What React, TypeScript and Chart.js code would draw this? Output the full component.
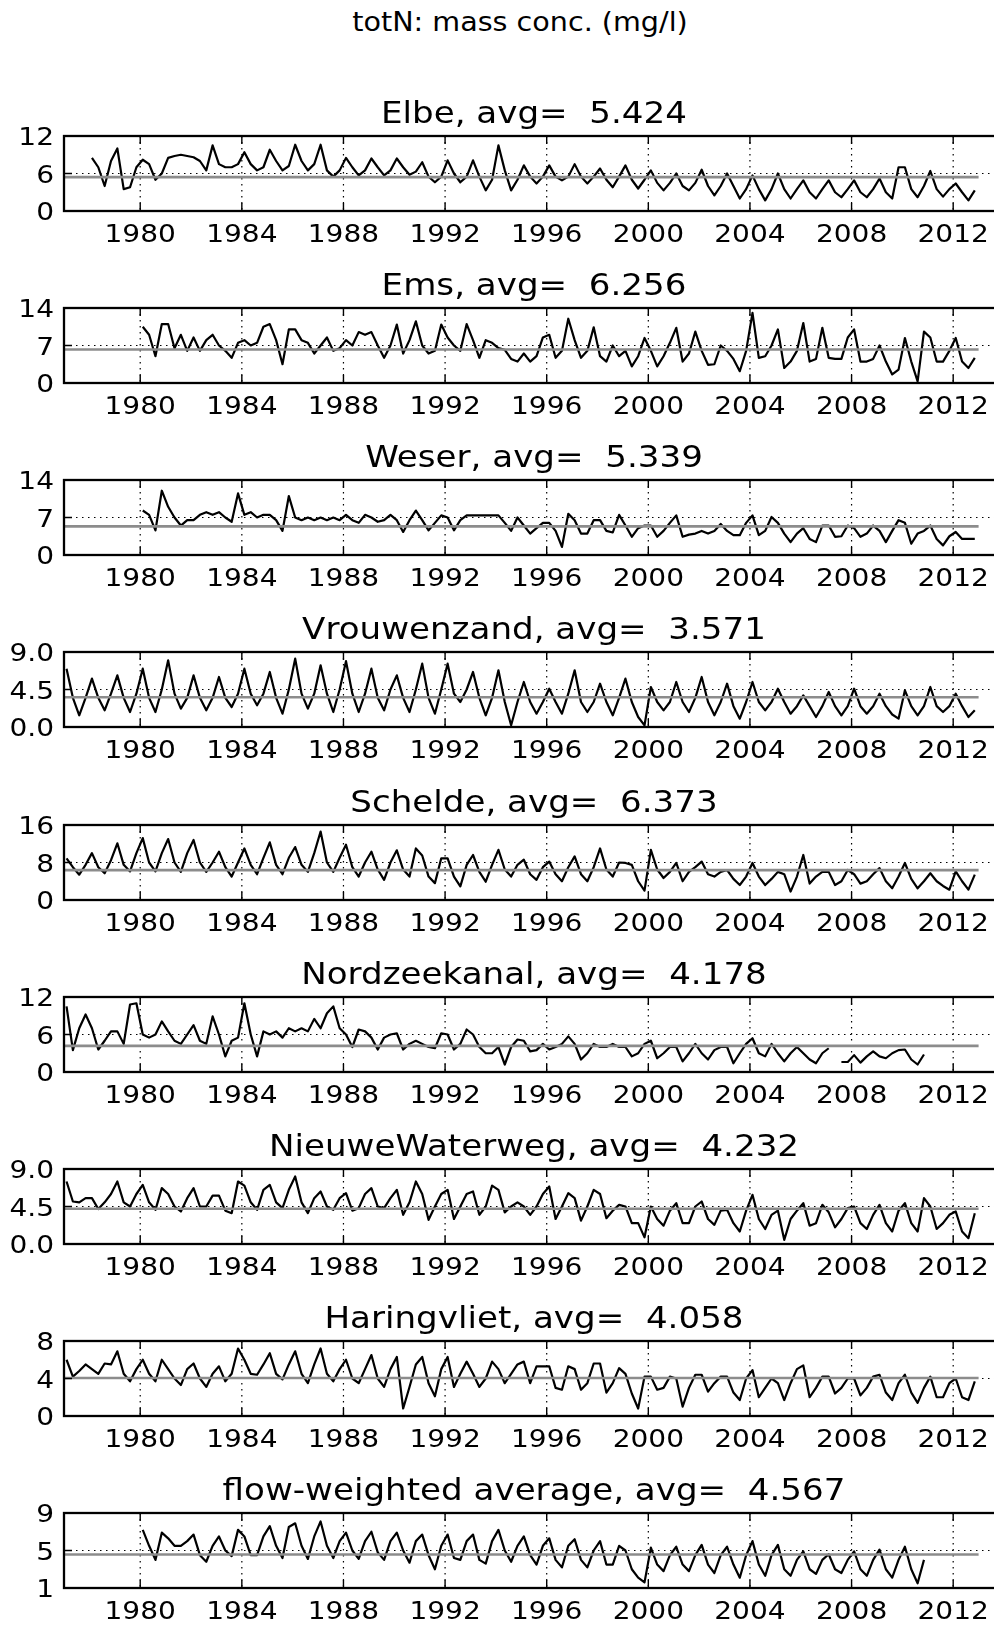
import React, { useEffect, useRef } from "react";
import { Chart, registerables } from "chart.js";

Chart.register(...registerables);

const FONT = '"DejaVu Sans", "Bitstream Vera Sans", sans-serif';
const SX = 1.1; // horizontal text stretch seen in the reference

const X_MIN = 1977;
const X_MAX = 2014;
const xTickYears = [1980, 1984, 1988, 1992, 1996, 2000, 2004, 2008, 2012];
const avgLineSpan = [1977, 2013];
const STEP = 0.25; // quarterly samples

const mainTitle = "totN: mass conc. (mg/l)";
const stationNames = [
  "Elbe",
  "Ems",
  "Weser",
  "Vrouwenzand",
  "Schelde",
  "Nordzeekanal",
  "NieuweWaterweg",
  "Haringvliet",
  "flow-weighted average",
];
const stationAvgs = [5.424, 6.256, 5.339, 3.571, 6.373, 4.178, 4.232, 4.058, 4.567];
const yTickValues = [
  [0, 6, 12],
  [0, 7, 14],
  [0, 7, 14],
  [0, 4.5, 9],
  [0, 8, 16],
  [0, 6, 12],
  [0, 4.5, 9],
  [0, 4, 8],
  [1, 5, 9],
];
const yTickLabels = [
  ["0", "6", "12"],
  ["0", "7", "14"],
  ["0", "7", "14"],
  ["0.0", "4.5", "9.0"],
  ["0", "8", "16"],
  ["0", "6", "12"],
  ["0.0", "4.5", "9.0"],
  ["0", "4", "8"],
  ["1", "5", "9"],
];
const seriesStarts = [1978.1, 1980.1, 1980.1, 1977.1, 1977.1, 1977.1, 1977.1, 1977.1, 1980.1];

const elbe = [
  8.5, 7.0, 4.0, 8.0,
  10.0, 3.5, 3.8, 7.0,
  8.2, 7.5, 5.0, 6.0,
  8.5, 8.8, 9.0, 8.8,
  8.6, 8.0, 6.5, 10.5,
  7.5, 7.0, 7.0, 7.5,
  9.4, 7.5, 6.5, 7.0,
  9.8, 8.0, 6.5, 7.2,
  10.6, 8.0, 6.5, 7.5,
  10.6, 6.5, 5.5, 6.5,
  8.5, 7.0, 5.7, 6.5,
  8.4, 7.0, 5.7, 6.5,
  8.4, 7.0, 5.8, 6.3,
  7.8, 5.5, 4.6, 5.5,
  8.1, 6.0, 4.6, 5.5,
  8.1, 5.5, 3.3, 5.0,
  10.5, 6.5, 3.3, 5.0,
  7.3, 5.5, 4.4, 5.5,
  7.3, 5.5, 4.9, 5.5,
  7.5, 5.5, 4.4, 5.5,
  6.8, 5.0, 3.8, 5.5,
  7.3, 5.0, 3.6, 5.0,
  6.5, 4.5, 3.3, 4.5,
  6.0, 4.0, 3.3, 4.5,
  6.6, 4.0, 2.5, 4.0,
  6.0, 4.0, 2.0, 3.5,
  5.7, 3.5, 1.7, 3.5,
  6.0, 3.5, 2.0, 3.5,
  4.9, 3.0, 2.0, 3.5,
  4.9, 3.0, 2.2, 3.5,
  4.9, 3.0, 2.2, 3.5,
  5.2, 3.0, 2.0, 7.0,
  7.0, 3.5, 2.2, 4.0,
  6.4, 3.5, 2.3, 3.5,
  4.4, 3.0, 1.7, 3.3,
];

const ems = [
  10.5, 9.0, 5.0, 11.0,
  11.0, 6.5, 9.0, 6.0,
  8.5, 6.0, 8.0, 9.0,
  7.0, 6.0, 4.7, 7.5,
  8.0, 7.0, 7.5, 10.5,
  11.0, 8.0, 3.5, 10.0,
  10.0, 8.0, 7.5, 5.5,
  7.0, 8.5, 6.0, 6.5,
  8.0, 7.0, 9.5, 9.0,
  9.5, 7.0, 4.7, 7.0,
  10.9, 5.5, 8.0, 11.5,
  7.0, 5.5, 6.0, 10.9,
  8.5, 7.0, 6.0, 11.0,
  8.0, 4.7, 8.0, 7.5,
  6.5, 6.2, 4.5, 4.0,
  5.5, 4.0, 5.0, 8.5,
  9.0, 4.7, 6.0, 12.0,
  8.0, 4.7, 6.0, 10.4,
  5.0, 4.0, 7.0, 5.0,
  6.0, 3.1, 5.0, 8.4,
  6.0, 3.1, 5.0, 7.5,
  10.3, 4.0, 5.5, 9.6,
  6.0, 3.4, 3.5, 7.0,
  6.0, 4.5, 2.2, 6.0,
  13.1, 4.7, 5.0, 7.0,
  10.0, 2.8, 4.0, 6.0,
  11.2, 4.0, 4.5, 10.3,
  4.7, 4.5, 4.5, 8.5,
  10.0, 4.0, 4.0, 4.5,
  7.0, 4.0, 1.6, 2.5,
  8.4, 4.0, 0.3, 9.6,
  8.5, 4.0, 4.0, 6.0,
  8.4, 4.0, 2.8, 4.7,
];

const weser = [
  8.3, 7.5, 4.6, 12.0,
  9.0, 7.0, 5.5, 6.5,
  6.5, 7.5, 8.0, 7.5,
  8.0, 7.0, 6.2, 11.5,
  7.5, 8.0, 7.0, 7.5,
  7.5, 6.5, 4.5, 11.0,
  7.0, 6.5, 7.0, 6.5,
  7.0, 6.5, 7.0, 6.5,
  7.5, 6.5, 6.0, 7.5,
  7.0, 6.2, 6.5, 7.5,
  6.5, 4.3, 6.5, 8.3,
  6.5, 4.6, 6.0, 7.4,
  7.0, 4.6, 6.5, 7.4,
  7.4, 7.4, 7.4, 7.4,
  7.4, 6.0, 4.5, 7.0,
  5.5, 4.0, 5.0, 6.0,
  6.0, 4.5, 1.5, 7.7,
  6.5, 4.0, 4.0, 6.5,
  6.5, 4.5, 4.2, 7.5,
  5.5, 3.4, 5.0, 5.5,
  5.5, 3.4, 4.5, 6.0,
  7.4, 3.4, 3.8, 4.0,
  4.5, 4.0, 4.5, 5.8,
  4.5, 3.7, 3.7, 6.0,
  7.4, 3.7, 4.5, 7.1,
  6.0, 4.0, 2.4, 4.0,
  5.0, 3.0, 2.4, 5.5,
  5.5, 3.4, 3.5, 5.5,
  5.0, 3.4, 4.0, 5.5,
  4.5, 2.4, 4.5, 6.5,
  6.0, 2.1, 4.0, 4.5,
  5.5, 3.0, 1.8, 3.5,
  4.3, 3.0, 3.0, 3.0,
];

const vrouwenzand = [
  7.0, 3.5, 1.4, 3.5,
  5.8, 3.5, 2.0, 4.0,
  6.2, 3.5, 1.8, 4.0,
  7.0, 3.5, 1.8, 4.5,
  8.0, 4.0, 2.2, 3.5,
  6.2, 3.5, 2.0, 3.5,
  6.0, 3.5, 2.4, 4.0,
  7.0, 4.0, 2.6, 4.0,
  6.6, 3.5, 1.6, 4.5,
  8.2, 4.0, 2.2, 4.0,
  7.4, 4.0, 1.8, 4.5,
  7.9, 4.0, 1.8, 4.0,
  7.0, 3.5, 2.0, 4.5,
  6.2, 3.5, 1.8, 4.5,
  7.6, 3.5, 1.6, 4.5,
  7.6, 4.0, 3.0, 4.5,
  6.6, 3.5, 1.4, 3.5,
  6.8, 3.0, 0.2, 3.0,
  5.4, 3.0, 1.6, 3.0,
  4.6, 3.0, 1.6, 4.0,
  6.8, 3.0, 1.8, 3.0,
  5.2, 3.0, 1.4, 3.5,
  5.8, 3.0, 1.2, 0.2,
  4.8, 3.0, 2.0, 3.0,
  5.4, 3.0, 1.8, 3.5,
  6.0, 3.0, 1.4, 3.0,
  5.2, 2.5, 1.0, 3.0,
  5.4, 3.0, 2.0, 3.0,
  4.6, 3.0, 1.6, 2.5,
  3.8, 2.5, 1.2, 2.5,
  4.2, 2.5, 1.4, 2.5,
  4.6, 2.5, 1.6, 2.5,
  4.0, 2.5, 1.5, 1.0,
  4.4, 2.5, 1.4, 2.5,
  4.8, 2.5, 1.8, 2.5,
  4.0, 2.5, 1.2, 2.0,
];

const schelde = [
  8.9, 7.0, 5.4, 7.5,
  10.0, 7.0, 5.7, 8.5,
  12.1, 7.5, 6.1, 10.0,
  13.2, 8.0, 6.1, 10.0,
  13.0, 8.0, 6.0, 10.0,
  12.8, 8.0, 6.0, 8.0,
  10.3, 7.0, 5.0, 8.0,
  11.0, 7.5, 5.5, 9.0,
  12.3, 7.5, 5.5, 9.0,
  11.3, 7.5, 6.0, 10.0,
  14.6, 8.0, 6.0, 9.0,
  11.8, 7.0, 5.0, 8.0,
  10.3, 6.5, 4.3, 8.0,
  10.6, 6.5, 5.0, 11.0,
  9.5, 5.0, 3.6, 8.9,
  8.9, 5.0, 2.9, 7.5,
  9.6, 6.0, 3.9, 7.5,
  10.7, 6.5, 5.0, 7.5,
  8.6, 5.5, 4.3, 7.0,
  8.2, 5.5, 4.0, 7.0,
  9.3, 5.5, 4.0, 7.0,
  11.0, 6.5, 5.0, 8.0,
  7.9, 7.5, 4.0, 2.0,
  10.7, 6.5, 4.7, 6.0,
  7.9, 4.0, 6.0, 7.0,
  8.2, 5.5, 5.0, 6.0,
  6.4, 4.5, 3.2, 5.0,
  7.9, 5.0, 3.2, 4.5,
  6.0, 5.5, 1.8, 5.0,
  9.6, 3.5, 5.0, 6.0,
  6.0, 3.2, 4.0, 6.4,
  5.5, 3.5, 4.0, 5.5,
  6.8, 4.0, 2.5, 5.0,
  7.9, 4.5, 2.5, 4.0,
  5.7, 4.0, 3.0, 2.2,
  6.1, 4.0, 2.2, 5.4,
];

const nordzeekanal = [
  10.5, 3.5, 7.0, 9.2,
  7.0, 3.6, 5.0, 6.5,
  6.5, 4.5, 10.8, 11.0,
  6.0, 5.5, 6.0, 8.1,
  6.5, 5.0, 4.5, 6.0,
  7.5, 5.0, 4.5, 8.9,
  6.0, 2.5, 5.0, 5.5,
  11.0, 6.0, 2.5, 6.5,
  6.0, 6.5, 5.5, 7.0,
  6.5, 7.0, 6.5, 8.5,
  7.0, 9.4, 10.5, 7.0,
  6.0, 4.0, 6.8, 6.5,
  5.5, 3.6, 5.5, 6.0,
  6.2, 3.6, 4.5, 5.0,
  4.5, 4.0, 3.8, 6.2,
  6.0, 3.6, 4.5, 6.8,
  6.0, 4.0, 3.0, 3.0,
  4.0, 1.2, 4.0, 5.2,
  5.0, 3.3, 3.5, 4.5,
  3.6, 4.0, 4.5, 5.7,
  4.5, 2.0, 3.0, 4.5,
  4.0, 4.0, 4.5, 4.0,
  4.0, 2.5, 3.0, 4.5,
  5.0, 2.2, 3.0, 4.0,
  4.0, 1.7, 3.0, 4.5,
  3.0, 2.0, 3.5, 4.0,
  4.0, 1.4, 3.0, 4.5,
  5.4, 3.0, 2.5, 4.5,
  3.0, 1.7, 3.0, 4.0,
  3.0, 2.0, 1.4, 3.0,
  3.8, null, 1.6, 1.6,
  2.7, 1.5, 2.5, 3.3,
  2.5, 2.2, 3.0, 3.5,
  3.6, 2.0, 1.2, 2.8,
];

const nieuweWaterweg = [
  7.5, 5.1, 5.0, 5.5,
  5.5, 4.2, 5.0, 6.0,
  7.5, 5.0, 4.5, 6.0,
  7.1, 5.0, 4.1, 6.7,
  6.0, 4.5, 3.9, 5.5,
  6.7, 4.5, 4.5, 5.8,
  5.8, 4.0, 3.7, 7.5,
  7.0, 5.0, 4.1, 6.5,
  7.1, 5.0, 4.3, 6.5,
  8.1, 5.0, 3.7, 5.5,
  6.3, 4.5, 4.1, 5.5,
  6.1, 4.0, 4.3, 6.0,
  6.7, 4.5, 4.3, 5.5,
  6.5, 3.5, 5.0, 7.5,
  6.0, 2.9, 4.5, 6.0,
  6.5, 3.0, 4.5, 6.0,
  6.3, 3.5, 4.5, 7.0,
  6.5, 3.8, 4.5, 5.0,
  4.5, 3.5, 4.5, 6.0,
  6.9, 3.0, 4.5, 6.1,
  5.5, 2.8, 4.5, 6.5,
  6.0, 3.1, 4.0, 4.7,
  4.5, 2.5, 2.5, 0.8,
  4.5, 3.0, 2.2, 4.0,
  4.9, 2.5, 2.5, 4.5,
  5.1, 3.0, 2.3, 4.0,
  4.1, 2.5, 1.5, 4.0,
  5.9, 3.0, 1.8, 3.5,
  4.0, 0.5, 3.0, 4.0,
  4.9, 2.2, 2.5, 4.7,
  3.8, 2.0, 3.0, 4.3,
  4.5, 2.5, 1.8, 3.5,
  4.7, 2.5, 1.5, 4.0,
  4.9, 2.5, 1.5, 5.5,
  4.5, 1.8, 2.5, 3.5,
  3.9, 1.5, 0.7, 3.7,
];

const haringvliet = [
  6.0, 4.2, 4.8, 5.5,
  5.0, 4.5, 5.6, 5.5,
  6.9, 4.5, 3.7, 5.0,
  6.0, 4.5, 3.7, 6.0,
  5.0, 4.0, 3.3, 5.0,
  5.6, 4.0, 3.1, 4.5,
  5.3, 3.7, 4.5, 7.2,
  6.0, 4.5, 4.4, 5.5,
  6.7, 4.5, 3.9, 5.5,
  6.9, 4.5, 3.5, 5.5,
  7.2, 4.5, 3.7, 5.0,
  6.0, 4.0, 3.5, 5.0,
  6.5, 4.0, 3.1, 5.0,
  6.3, 0.8, 3.1, 5.5,
  6.3, 3.5, 2.1, 5.0,
  6.3, 3.1, 4.5, 5.8,
  4.5, 3.1, 4.0, 5.8,
  5.0, 3.5, 4.5, 5.5,
  5.8, 3.5, 5.3, 5.3,
  5.3, 3.0, 2.8, 5.3,
  5.0, 2.8, 3.5, 5.6,
  5.6, 2.5, 3.5, 5.1,
  4.5, 2.4, 0.8, 4.2,
  4.2, 2.8, 3.0, 4.2,
  4.0, 1.0, 3.0, 4.4,
  4.4, 2.6, 3.5, 4.2,
  4.2, 2.5, 1.7, 4.0,
  4.9, 2.0, 3.0, 4.0,
  3.5, 1.7, 3.5, 5.0,
  5.4, 2.0, 3.0, 4.2,
  4.2, 2.4, 3.0, 4.0,
  4.0, 2.2, 3.0, 4.2,
  4.4, 2.5, 1.7, 3.5,
  4.4, 2.5, 1.4, 3.0,
  4.2, 2.0, 2.0, 3.5,
  4.0, 2.0, 1.7, 3.7,
];

const flowWeighted = [
  7.2, 5.5, 4.0, 6.9,
  6.3, 5.5, 5.5, 6.0,
  6.7, 4.5, 3.8, 5.5,
  6.5, 5.0, 4.4, 7.2,
  6.5, 4.5, 4.5, 6.5,
  7.6, 5.5, 4.2, 7.5,
  7.9, 5.5, 4.1, 6.5,
  8.1, 5.5, 4.2, 6.0,
  6.9, 5.0, 4.1, 6.0,
  7.0, 4.8, 4.0, 6.0,
  6.9, 5.0, 3.7, 6.0,
  6.7, 4.5, 3.0, 5.5,
  6.7, 4.2, 4.0, 6.0,
  6.7, 4.0, 3.6, 6.0,
  7.2, 5.0, 3.8, 5.5,
  6.5, 4.5, 3.5, 5.5,
  6.3, 4.0, 3.2, 5.5,
  6.2, 4.0, 3.2, 5.0,
  6.0, 3.5, 3.5, 5.5,
  5.0, 3.0, 2.1, 1.6,
  5.3, 3.5, 2.8, 4.5,
  5.4, 3.5, 2.8, 4.5,
  5.6, 3.5, 2.6, 4.5,
  5.4, 3.5, 2.1, 4.5,
  6.0, 3.5, 2.3, 4.5,
  5.6, 3.0, 2.3, 4.0,
  4.9, 3.0, 2.5, 4.0,
  4.6, 3.0, 2.6, 4.0,
  4.9, 3.0, 2.3, 4.0,
  5.1, 3.0, 2.1, 4.0,
  5.4, 3.0, 1.5, 4.0,
];

const seriesValues: (number | null)[][] = [
  elbe,
  ems,
  weser,
  vrouwenzand,
  schelde,
  nordzeekanal,
  nieuweWaterweg,
  haringvliet,
  flowWeighted,
];

// layout (page pixels)
const CANVAS_W = 1010;
const CANVAS_H = 172;
const PLOT_LEFT = 64;
const PLOT_RIGHT = 1004;
const PLOT_H = 75;
const PAD_TOP = 40;
const FIRST_TOP = 135.7;
const PANEL_STEP = 172.2;

function stretchedText(
  ctx: CanvasRenderingContext2D,
  text: string,
  x: number,
  y: number,
  align: CanvasTextAlign,
  size: number
) {
  ctx.save();
  ctx.font = `${size}px ${FONT}`;
  ctx.fillStyle = "#000";
  ctx.textBaseline = "alphabetic";
  ctx.textAlign = align;
  ctx.translate(x, y);
  ctx.scale(SX, 1);
  ctx.fillText(text, 0, 0);
  ctx.restore();
}

const decorPlugin = {
  id: "panelDecor",
  beforeDatasetsDraw(chart: any, _args: any, opts: any) {
    const { ctx, chartArea: a, scales } = chart;
    ctx.save();
    ctx.strokeStyle = "#000";
    ctx.lineWidth = 1.2;
    ctx.setLineDash([1.5, 4.5]);
    for (const t of xTickYears) {
      const x = scales.x.getPixelForValue(t);
      ctx.beginPath();
      ctx.moveTo(x, a.top);
      ctx.lineTo(x, a.bottom);
      ctx.stroke();
    }
    const y = scales.y.getPixelForValue(opts.yTicks[1]);
    ctx.beginPath();
    ctx.moveTo(a.left, y);
    ctx.lineTo(a.right, y);
    ctx.stroke();
    ctx.restore();
  },
  afterDatasetsDraw(chart: any, _args: any, opts: any) {
    const { ctx, chartArea: a, scales } = chart;
    ctx.save();
    ctx.setLineDash([]);
    ctx.strokeStyle = "#000";
    ctx.lineWidth = 1.4;
    const TL = 8;
    for (const t of xTickYears) {
      const x = scales.x.getPixelForValue(t);
      ctx.beginPath();
      ctx.moveTo(x, a.top);
      ctx.lineTo(x, a.top + TL);
      ctx.moveTo(x, a.bottom);
      ctx.lineTo(x, a.bottom - TL);
      ctx.stroke();
    }
    for (const v of opts.yTicks) {
      const y = scales.y.getPixelForValue(v);
      ctx.beginPath();
      ctx.moveTo(a.left, y);
      ctx.lineTo(a.left + TL, y);
      ctx.moveTo(a.right, y);
      ctx.lineTo(a.right - TL, y);
      ctx.stroke();
    }
    ctx.lineWidth = 2.3;
    ctx.strokeRect(a.left, a.top, a.right - a.left, a.bottom - a.top);
    ctx.restore();

    const TICK_FS = 25.5;
    for (const t of xTickYears) {
      const x = scales.x.getPixelForValue(t);
      stretchedText(ctx, String(t), x, a.bottom + 31, "center", TICK_FS);
    }
    opts.yTicks.forEach((v: number, i: number) => {
      const y = scales.y.getPixelForValue(v);
      stretchedText(ctx, opts.yLabels[i], a.left - 10, y + 0.3645 * TICK_FS, "right", TICK_FS);
    });
    stretchedText(ctx, opts.title, (a.left + a.right) / 2, a.top - 13, "center", 31);
  },
};

function Panel({ idx }: { idx: number }) {
  const ref = useRef<HTMLCanvasElement | null>(null);
  const plotTop = Math.round(FIRST_TOP + PANEL_STEP * idx);
  const top = plotTop - PAD_TOP;

  useEffect(() => {
    const canvas = ref.current;
    if (!canvas) return;
    const start = seriesStarts[idx];
    const pts = seriesValues[idx].map((v, k) => ({
      x: Math.round((start + STEP * k) * 1000) / 1000,
      y: v,
    }));
    const avg = stationAvgs[idx];
    const yt = yTickValues[idx];
    const chart = new Chart(canvas, {
      type: "line",
      data: {
        datasets: [
          {
            data: [
              { x: avgLineSpan[0], y: avg },
              { x: avgLineSpan[1], y: avg },
            ],
            borderColor: "#8c8c8c",
            borderWidth: 2.6,
            pointRadius: 0,
            order: 0,
          },
          {
            data: pts as any,
            borderColor: "#000000",
            borderWidth: 2.2,
            pointRadius: 0,
            spanGaps: false,
            tension: 0,
            borderJoinStyle: "round",
            order: 1,
          },
        ],
      },
      options: {
        responsive: false,
        animation: false,
        devicePixelRatio: 1,
        events: [],
        layout: {
          padding: {
            left: PLOT_LEFT,
            right: CANVAS_W - PLOT_RIGHT,
            top: PAD_TOP,
            bottom: CANVAS_H - PAD_TOP - PLOT_H,
          },
        },
        plugins: {
          legend: { display: false },
          tooltip: { enabled: false },
          panelDecor: {
            yTicks: yt,
            yLabels: yTickLabels[idx],
            title: `${stationNames[idx]}, avg=  ${avg.toFixed(3)}`,
          },
        } as any,
        scales: {
          x: { type: "linear", display: false, min: X_MIN, max: X_MAX },
          y: { type: "linear", display: false, min: yt[0], max: yt[2] },
        },
      },
      plugins: [decorPlugin],
    });
    return () => chart.destroy();
  }, [idx]);

  return (
    <canvas
      ref={ref}
      width={CANVAS_W}
      height={CANVAS_H}
      style={{
        position: "absolute",
        left: 0,
        top,
        width: CANVAS_W,
        height: CANVAS_H,
      }}
    />
  );
}

export default function App() {
  const panels = stationNames.map((_, i) => <Panel key={i} idx={i} />);
  return (
    <div
      style={{
        position: "absolute",
        left: 0,
        top: 0,
        width: 994,
        height: 1626,
        overflow: "hidden",
        background: "#fff",
      }}
    >
      <div
        style={{
          position: "absolute",
          left: 520,
          top: 6.5,
          transform: "translateX(-50%) scaleX(1.1)",
          whiteSpace: "nowrap",
          fontFamily: FONT,
          fontSize: 26,
          lineHeight: "30px",
          color: "#000",
        }}
      >
        {mainTitle}
      </div>
      {panels}
    </div>
  );
}
